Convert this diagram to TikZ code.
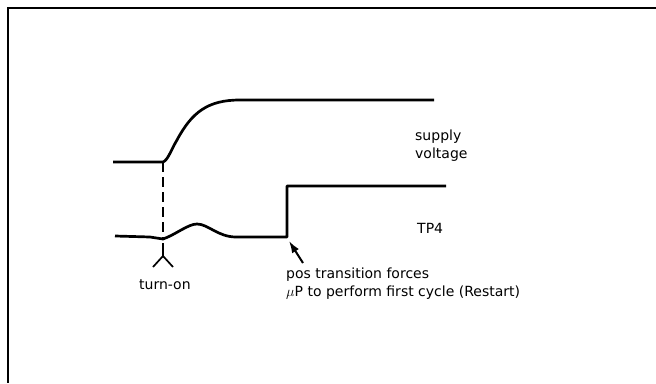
\documentclass[tikz,border=0pt]{standalone}
\usepackage{fontspec}
\setmainfont{DejaVu Sans}
\usetikzlibrary{arrows.meta}
\tikzset{
  wave/.style={line width=2.7pt,line join=round},
  guide/.style={line width=1.3pt,dash pattern=on 10pt off 5pt},
  lbl/.style={anchor=base west,inner sep=0pt,align=left,
    font=\fontsize{14}{18}\selectfont},
  pnt/.style={-{Latex[length=12pt,width=8pt]},line width=2pt},
}

\begin{document}
\begin{tikzpicture}[x=1pt,y=-1pt]
  \useasboundingbox (0,0) rectangle (656,383);
  \draw[line width=2.4pt] (656,8) -- (8,8) -- (8,383);

  % supply voltage
  \coordinate (son) at (163,162);
  \draw[wave] (113,162) -- (son)
    .. controls (168,160) and (171,150) .. (177,140)
    .. controls (192,112) and (208,100) .. (240,100) -- (434,100);

  % TP4
  \coordinate (tdip) at (163,239);
  \coordinate (tstep) at (287,237);
  \draw[wave] (115,236) -- (150,237) -- (tdip)
    .. controls (175,235) and (188,224) .. (197,224)
    .. controls (208,224) and (218,237) .. (236,237) -- (tstep)
    -- (287,186) -- (446,186);

  \draw[guide] (son) -- (tdip);

  % turn-on mark
  \coordinate (mtop) at (163,243);
  \coordinate (mfork) at (163,256);
  \draw[line width=1.7pt] (mtop) -- (mfork) -- (153,267);
  \draw[line width=1.7pt] (mfork) -- (173,267);

  \node[lbl] (sup) at (415,158) {supply\\voltage};
  \node[lbl] (tp) at (417,233) {TP4};
  \node[lbl] (ton) at (139,289) {turn-on};
  \node[lbl] (note) at (286,296) {pos transition forces\\$\mu$P to perform first cycle (Restart)};

  \coordinate (atail) at (303,263);
  \coordinate (ahead) at (289,241);
  \draw[pnt] (atail) -- (ahead);
\end{tikzpicture}
\end{document}
